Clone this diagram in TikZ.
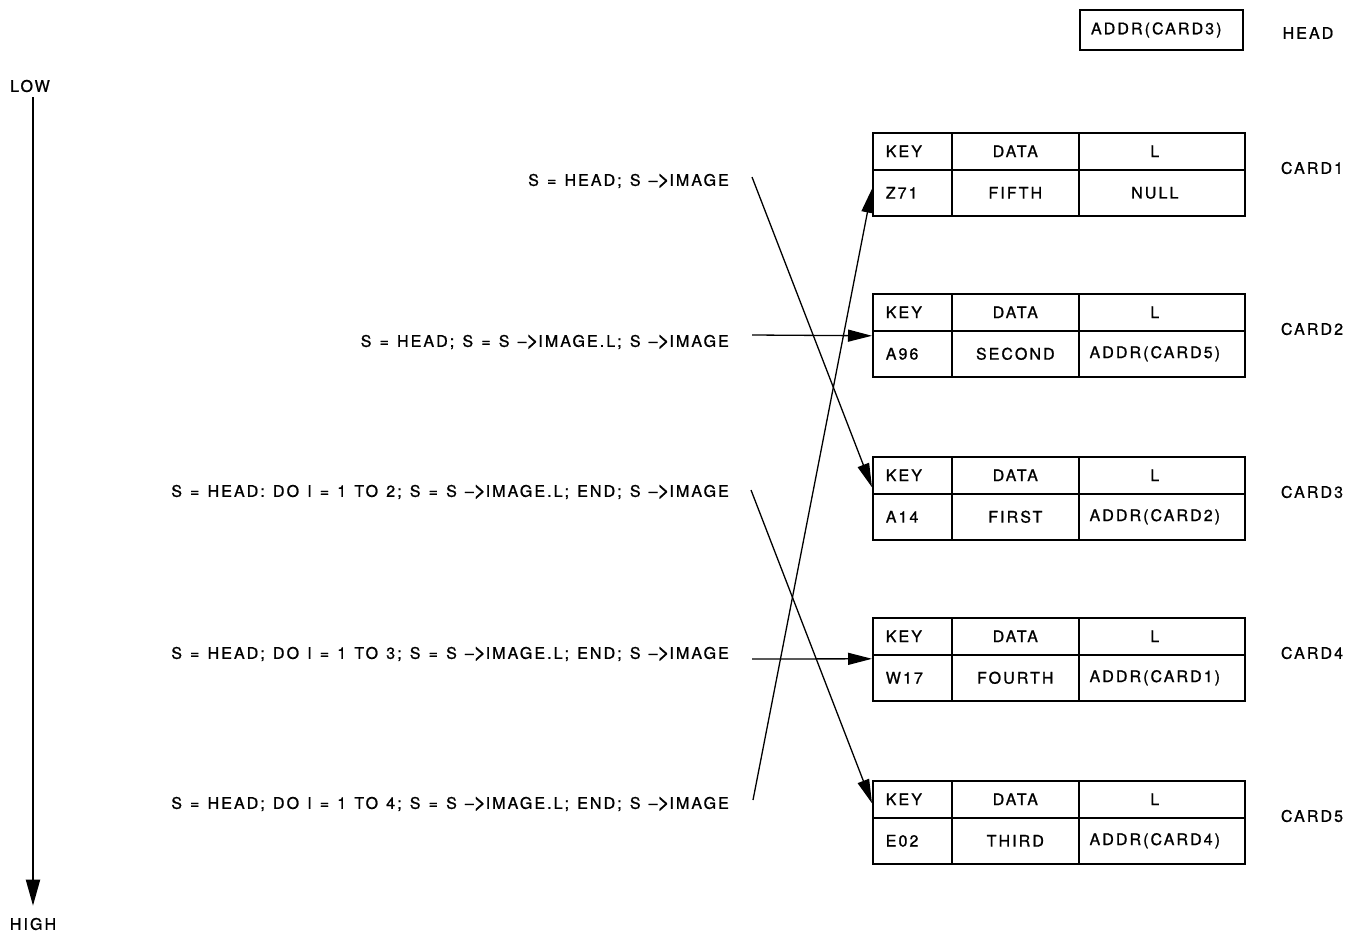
\documentclass[tikz,border=0pt]{standalone}
\usepackage{fontspec}
\setmainfont{TeX Gyre Heros}[LetterSpace=13,FakeBold=1,WordSpace=1.25]
\usetikzlibrary{arrows.meta}
\newcommand{\ptr}{\ \textendash\kern-0.5pt\raisebox{-0.5pt}{\fontsize{22}{22}\selectfont >}\kern-0.5pt}
\newcommand{\lcolshift}[1]{\hspace*{-14pt}#1}
\begin{document}
\begin{tikzpicture}[x=1pt,y=-1pt,
  txt/.style={font=\fontsize{16}{19}\selectfont, inner sep=0pt},
  cell/.style={draw, line width=1.6pt, inner sep=0pt, font=\fontsize{16}{19}\selectfont, anchor=north west},
  keycell/.style={cell, minimum width=79pt, text width=53pt, inner xsep=13pt, align=left},
  datacell/.style={cell, minimum width=127pt},
  lcell/.style={cell, minimum width=166pt},
  conn/.style={line width=1.3pt, -{Triangle[length=24pt,width=12pt]}},
  axis/.style={line width=2pt, -{Triangle[length=26pt,width=14pt]}},
]
\useasboundingbox (0,0) rectangle (1350,934);

% HEAD
\node[draw, line width=1.6pt, minimum width=163pt, minimum height=40pt, text width=141pt, inner xsep=11pt, inner ysep=0pt, align=left, font=\fontsize{16}{19}\selectfont] (headbox) at (1161.5,30) {ADDR(CARD3)};
\node[txt] (headlbl) at (1308,33) {HEAD};

% LOW / HIGH axis
\node[txt] (low) at (30,86) {LOW};
\node[txt] (high) at (33,924) {HIGH};
\draw[axis] ([yshift=-5pt]low.south -| 33,0) -- ([yshift=12pt]high.north -| 33,0);

% cards
\newcommand{\card}[6]{%
  \node[keycell, minimum height=37pt] (#1k) at (872,#2) {KEY};
  \node[datacell, minimum height=37pt] (#1d) at (951,#2) {DATA};
  \node[lcell, minimum height=37pt] (#1l) at (1078,#2) {\lcolshift{L}};
  \node[keycell, minimum height=46pt] (#1v) at (872,#2+37) {#3};
  \node[datacell, minimum height=46pt] (#1w) at (951,#2+37) {#4};
  \node[lcell, minimum height=46pt] (#1x) at (1078,#2+37) {\lcolshift{#5}};
  \node[txt] (#1n) at (1312,#2+36) {#6};
}
\card{ca}{132}{Z71}{FIFTH}{NULL}{CARD1}
\card{cb}{293}{A96}{SECOND}{ADDR(CARD5)}{CARD2}
\card{cc}{456}{A14}{FIRST}{ADDR(CARD2)}{CARD3}
\card{cd}{617}{W17}{FOURTH}{ADDR(CARD1)}{CARD4}
\card{ce}{780}{E02}{THIRD}{ADDR(CARD4)}{CARD5}

% statements
\node[txt, anchor=east] (t1) at (729,181) {S = HEAD; S\ptr IMAGE};
\node[txt, anchor=east] (t2) at (729,342) {S = HEAD; S = S\ptr IMAGE.L; S\ptr IMAGE};
\node[txt, anchor=east] (t3) at (729,492) {S = HEAD: DO I = 1 TO 2; S = S\ptr IMAGE.L; END; S\ptr IMAGE};
\node[txt, anchor=east] (t4) at (729,654) {S = HEAD; DO I = 1 TO 3; S = S\ptr IMAGE.L; END; S\ptr IMAGE};
\node[txt, anchor=east] (t5) at (729,804) {S = HEAD; DO I = 1 TO 4; S = S\ptr IMAGE.L; END; S\ptr IMAGE};

% connector starts
\coordinate (s1) at (752,177);
\coordinate (s2) at (752,335);
\coordinate (s3) at (751,490);
\coordinate (s4) at (752,659);
\coordinate (s5) at (753,800);

\draw[conn] (s1) -- ([yshift=-12pt]cck.west);
\draw[conn] (s2) -- ([yshift=18pt]cbv.west);
\draw[conn] (s3) -- ([yshift=-4pt]cek.west);
\draw[conn] (s4) -- ([yshift=19pt]cdv.west);
\draw[conn] (s5) -- ([yshift=4pt]cav.west);
\end{tikzpicture}
\end{document}
